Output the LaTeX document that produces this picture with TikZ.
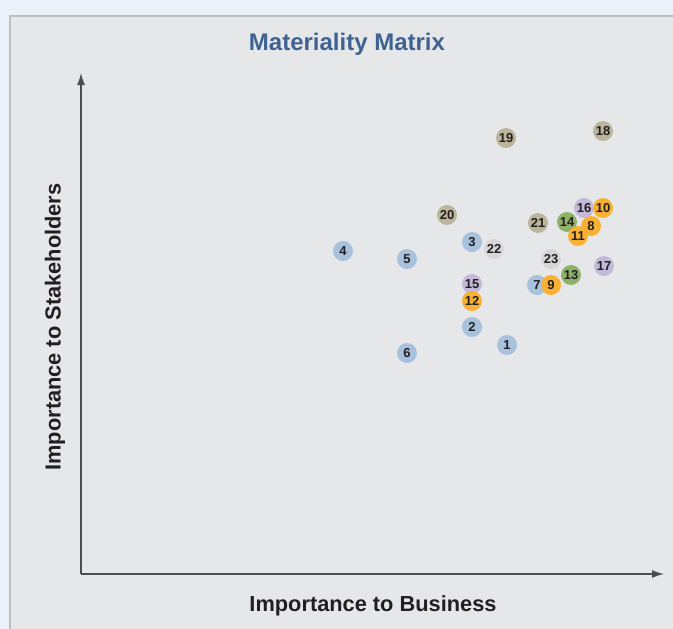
\documentclass[tikz,border=0pt]{standalone}
\usepackage{fontspec}
\setmainfont{Liberation Sans}
\usetikzlibrary{arrows.meta}

\definecolor{pagebg}{HTML}{EAF1F9}
\definecolor{panelbg}{HTML}{E6E7E9}
\definecolor{panelline}{HTML}{BCBEC0}
\definecolor{titleblue}{HTML}{3E6392}
\definecolor{axisgray}{HTML}{4D4D4F}
\definecolor{numtext}{HTML}{231F20}
\definecolor{cblue}{HTML}{A8C1DD}
\definecolor{corange}{HTML}{F8B133}
\definecolor{cgreen}{HTML}{8FB26A}
\definecolor{cpurple}{HTML}{C5B9D9}
\definecolor{ctan}{HTML}{BAB59B}
\definecolor{cgray}{HTML}{D7D7D7}

\tikzset{
  bubble/.style={circle, fill=#1, minimum size=20pt, inner sep=0pt,
    text=numtext, font=\fontsize{13}{13}\selectfont\bfseries},
  axisline/.style={draw=axisgray, line width=1.3pt,
    -{Latex[length=12pt,width=8pt]}},
  axislabel/.style={text=numtext, font=\fontsize{21.8}{22}\selectfont\bfseries},
}

\begin{document}
\begin{tikzpicture}[x=1pt,y=-1pt]
\useasboundingbox (0,0) rectangle (673,629);

% background and panel
\fill[pagebg] (0,0) rectangle (673,629);
\draw[panelline, line width=2pt, fill=panelbg] (10,16) rectangle (690,650);

\node[text=titleblue, font=\fontsize{24}{24}\selectfont\bfseries] (title) at (347,44) {Materiality Matrix};

% axes
\coordinate (origin) at (81,574);
\coordinate (ytip) at (81,73);
\coordinate (xtip) at (664,574);
\draw[axisline] (origin) -- (ytip);
\draw[axisline] (origin) -- (xtip);

\node[axislabel] (xlabel) at (373,606) {Importance to Business};
\node[axislabel, rotate=90] (ylabel) at (55,327) {Importance to Stakeholders};

% issues
\foreach \n/\x/\y/\c in {18/603/131/ctan, 19/506/138/ctan, 20/447/215/ctan, 21/538/223/ctan,
    22/494/249/cgray, 23/551/259/cgray,
    1/507/345/cblue, 2/472/327/cblue, 3/472/242/cblue, 4/343/251/cblue,
    5/407/259/cblue, 6/407/353/cblue, 7/537/285/cblue,
    15/472/284/cpurple, 16/584/208/cpurple, 17/604/266/cpurple,
    13/571/275/cgreen, 14/567/222/cgreen,
    10/603/208/corange, 8/591/226/corange, 11/578/236/corange,
    9/551/285/corange, 12/472/301/corange}
  \node[bubble=\c] (issue\n) at (\x,\y) {\n};
\end{tikzpicture}
\end{document}
